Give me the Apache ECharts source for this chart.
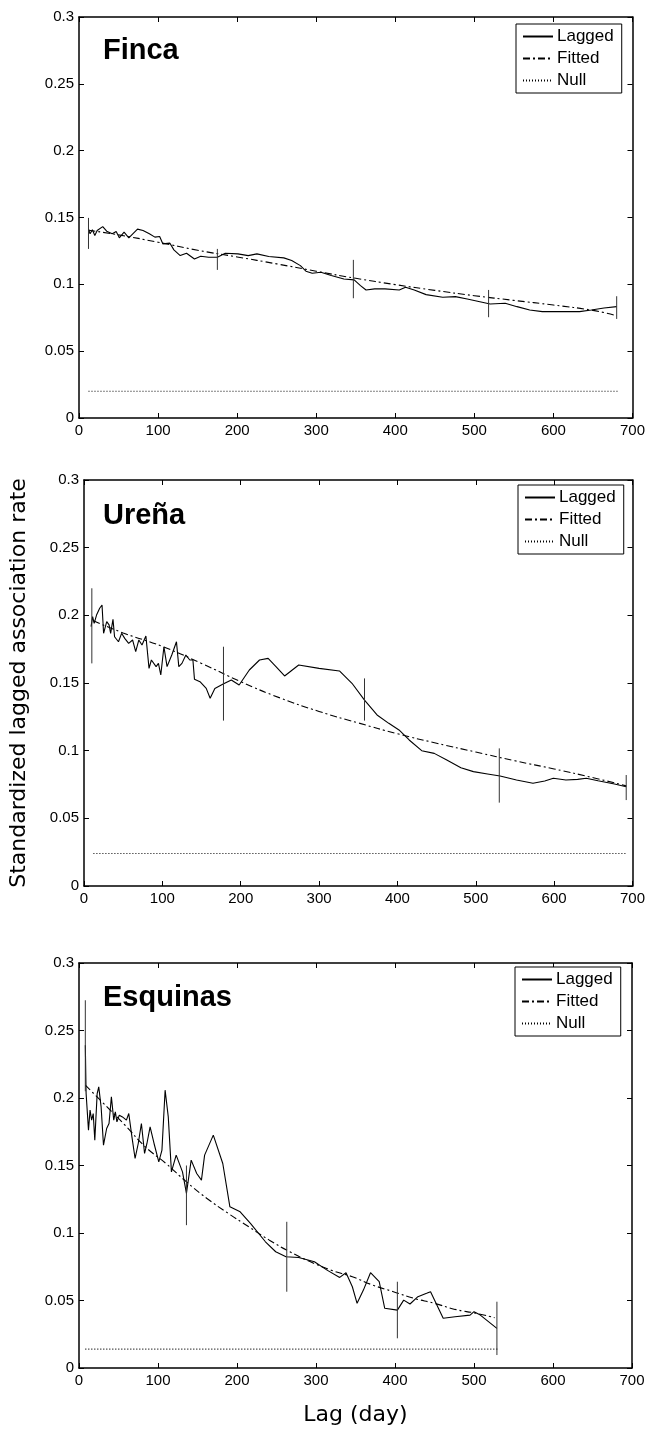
<!DOCTYPE html>
<html>
<head>
<meta charset="utf-8">
<script src="https://cdn.jsdelivr.net/npm/echarts@6/dist/echarts.min.js"></script>
<style>
html,body{margin:0;padding:0;background:#fff;}
#chart{width:648px;height:1433px;}
</style>
</head>
<body>
<div id="chart"></div>
<script>
// ---------- DATA ----------
const panelTitles = ['Finca', 'Ureña', 'Esquinas'];
const legendNames = ['Lagged', 'Fitted', 'Null'];
const xMin = 0, xMax = 700, xInterval = 100;
const yMin = 0, yMax = 0.3, yInterval = 0.05;

const fincaLagged = [[12,0.1415],[14,0.1378],[17,0.1408],[20,0.1365],[23,0.1403],[30,0.1432],[35,0.1398],[42,0.1378],[47,0.1395],[51,0.1348],[57,0.139],[63,0.1348],[68,0.1378],[74,0.1413],[81,0.1403],[89,0.1378],[96,0.1353],[102,0.1358],[106,0.1303],[115,0.1308],[120,0.1258],[128,0.1215],[136,0.1233],[146,0.119],[154,0.121],[164,0.1203],[175,0.1203],[185,0.1233],[201,0.1228],[214,0.1215],[225,0.1228],[240,0.1208],[259,0.1198],[269,0.1178],[280,0.114],[287,0.1098],[295,0.1083],[306,0.109],[319,0.1066],[335,0.104],[348,0.1033],[356,0.099],[363,0.0958],[374,0.0966],[387,0.0966],[405,0.0958],[413,0.0978],[424,0.0958],[439,0.0923],[460,0.0903],[476,0.0908],[491,0.089],[507,0.087],[520,0.0853],[539,0.0858],[554,0.0833],[570,0.0808],[586,0.0796],[607,0.0796],[633,0.0796],[648,0.0808],[664,0.0823],[680,0.0833]];
const fincaFitted = [[12,0.1405],[50,0.137],[100,0.1315],[150,0.1255],[200,0.1205],[250,0.1153],[300,0.1098],[350,0.1045],[400,0.0998],[450,0.0955],[500,0.0915],[550,0.088],[600,0.0845],[650,0.0805],[680,0.0765]];
const fincaNull = [[12,0.02],[681,0.02]];
const fincaErr = [[12,0.1265,0.1497],[175,0.1108,0.1265],[347,0.0896,0.1183],[518,0.0754,0.0958],[680,0.0741,0.0911]];

const urenaLagged = [[9,0.1916],[11,0.199],[13,0.194],[16,0.2002],[20,0.2052],[23,0.2076],[25,0.1867],[29,0.1953],[32,0.1929],[34,0.1867],[37,0.197],[39,0.1842],[44,0.1805],[48,0.1867],[52,0.183],[57,0.1793],[62,0.1818],[66,0.1732],[70,0.1818],[74,0.1781],[79,0.1847],[83,0.1608],[86,0.167],[92,0.1621],[95,0.1645],[98,0.1559],[102,0.1768],[106,0.1621],[112,0.1707],[118,0.1805],[121,0.1621],[125,0.1645],[130,0.1707],[135,0.167],[139,0.167],[141,0.1527],[148,0.151],[156,0.146],[161,0.1387],[167,0.146],[177,0.149],[188,0.1522],[198,0.1485],[211,0.1596],[224,0.167],[235,0.1682],[245,0.1621],[256,0.1552],[274,0.1633],[300,0.1608],[326,0.1589],[342,0.1498],[358,0.1374],[374,0.1264],[389,0.1202],[402,0.1153],[415,0.1079],[431,0.1],[447,0.098],[463,0.0931],[481,0.0874],[497,0.0845],[515,0.0828],[531,0.0813],[552,0.0783],[573,0.0759],[588,0.0776],[599,0.0796],[615,0.0783],[630,0.0788],[641,0.0796],[656,0.0778],[677,0.0754],[692,0.0734]];
const urenaFitted = [[12,0.196],[50,0.187],[100,0.177],[150,0.1645],[200,0.151],[250,0.139],[300,0.129],[350,0.1205],[400,0.1125],[450,0.1055],[500,0.099],[550,0.0925],[600,0.0865],[650,0.08],[692,0.074]];
const urenaNull = [[12,0.024],[692,0.024]];
const urenaErr = [[10,0.1645,0.22],[178,0.1222,0.1768],[358,0.1222,0.1534],[530,0.0616,0.1017],[692,0.0635,0.082]];

const esqLagged = [[8,0.239],[9,0.2033],[12,0.1762],[14,0.191],[16,0.1836],[18,0.1885],[20,0.1688],[23,0.2033],[25,0.2082],[28,0.1934],[31,0.1651],[35,0.1774],[38,0.1811],[41,0.2008],[44,0.1836],[46,0.1897],[48,0.1823],[51,0.1873],[55,0.186],[60,0.1836],[63,0.1885],[67,0.1712],[71,0.1552],[75,0.1663],[79,0.1811],[83,0.1589],[86,0.1663],[90,0.1786],[95,0.1663],[101,0.1527],[105,0.1614],[109,0.2058],[113,0.186],[117,0.1453],[123,0.1577],[131,0.1453],[136,0.1293],[142,0.154],[149,0.1441],[155,0.1392],[159,0.1577],[170,0.1725],[182,0.1515],[191,0.1194],[204,0.1157],[217,0.1071],[236,0.0935],[249,0.0861],[262,0.0824],[278,0.0819],[298,0.0787],[314,0.0725],[330,0.0671],[338,0.0706],[346,0.0602],[352,0.0479],[360,0.0577],[369,0.0706],[380,0.0639],[387,0.0442],[403,0.0429],[411,0.0503],[419,0.0474],[429,0.0528],[440,0.0553],[445,0.0565],[461,0.0368],[476,0.038],[495,0.0392],[500,0.0417],[508,0.0392],[529,0.0294]];
const esqFitted = [[8,0.2095],[31,0.196],[58,0.18],[84,0.1638],[110,0.1515],[136,0.1379],[162,0.1256],[189,0.1145],[215,0.1046],[241,0.0947],[267,0.0861],[293,0.0787],[319,0.0725],[346,0.0676],[372,0.0614],[398,0.0565],[424,0.0516],[450,0.0479],[476,0.0434],[503,0.0405],[526,0.0373]];
const esqNull = [[8,0.014],[530,0.014]];
const esqErr = [[8,0.205,0.2724],[136,0.1058,0.15],[263,0.0565,0.1083],[403,0.022,0.0639],[529,0.0096,0.0491]];

const panelData = [
  {lagged: fincaLagged, fitted: fincaFitted, nul: fincaNull, err: fincaErr},
  {lagged: urenaLagged, fitted: urenaFitted, nul: urenaNull, err: urenaErr},
  {lagged: esqLagged, fitted: esqFitted, nul: esqNull, err: esqErr}
];

// ---------- LAYOUT ----------
const grids = [
  {left: 79, top: 17, width: 554, height: 401},
  {left: 81, top: 480, width: 554, height: 406},
  {left: 79, top: 963, width: 553, height: 405}
];
const legendPos = [
  {left: 516, top: 24},
  {left: 518, top: 485},
  {left: 515, top: 967}
];
const titlePos = [
  {left: 103, top: 36},
  {left: 103, top: 501},
  {left: 103, top: 983}
];

const tickFont = 'Liberation Sans, Arial, sans-serif';
const nameFont = 'DejaVu Sans, sans-serif';

const xAxes = [], yAxes = [], series = [], titles = [], legends = [];

grids.forEach((g, i) => {
  const base = {
    min: xMin, max: xMax, interval: xInterval, type: 'value', gridIndex: i,
    axisLine: {show: true, onZero: false, lineStyle: {color: '#000', width: 1.5}},
    axisTick: {show: true, inside: true, length: 5, lineStyle: {color: '#000'}},
    splitLine: {show: false}
  };
  xAxes.push(Object.assign({}, base, {
    position: 'bottom',
    axisLabel: {color: '#000', fontSize: 15, fontFamily: tickFont, margin: 5},
    name: i === 2 ? 'Lag (day)' : '',
    nameLocation: 'middle', nameGap: 36,
    nameTextStyle: {fontSize: 22, fontFamily: nameFont, color: '#000'}
  }));
  xAxes.push(Object.assign({}, base, {position: 'top', axisLabel: {show: false}}));
  const ybase = {
    min: yMin, max: yMax, interval: yInterval, type: 'value', gridIndex: i,
    axisLine: {show: true, onZero: false, lineStyle: {color: '#000', width: 1.5}},
    axisTick: {show: true, inside: true, length: 5, lineStyle: {color: '#000'}},
    splitLine: {show: false}
  };
  yAxes.push(Object.assign({}, ybase, {
    position: 'left',
    axisLabel: {color: '#000', fontSize: 15, fontFamily: tickFont, margin: 5,
      formatter: v => String(+v.toFixed(2))},
    name: i === 1 ? 'Standardized lagged association rate' : '',
    nameLocation: 'middle', nameGap: 54, nameRotate: 90,
    nameTextStyle: {fontSize: 22, fontFamily: nameFont, color: '#000'}
  }));
  yAxes.push(Object.assign({}, ybase, {position: 'right', axisLabel: {show: false}}));

  const xi = i * 2, yi = i * 2;
  const d = panelData[i];
  series.push({
    type: 'line', name: 'Lagged', xAxisIndex: xi, yAxisIndex: yi, data: d.lagged,
    symbol: 'none', lineStyle: {color: '#000', width: 1.1, type: 'solid'},
    itemStyle: {color: '#000'}, animation: false, z: 3
  });
  series.push({
    type: 'line', name: 'Fitted', xAxisIndex: xi, yAxisIndex: yi, data: d.fitted,
    symbol: 'none', smooth: true, lineStyle: {color: '#000', width: 1.1, type: [7, 3, 2, 3]},
    itemStyle: {color: '#000'}, animation: false, z: 2
  });
  series.push({
    type: 'line', name: 'Null', xAxisIndex: xi, yAxisIndex: yi, data: d.nul,
    symbol: 'none', lineStyle: {color: '#000', width: 1.2, type: [1, 2]},
    itemStyle: {color: '#000'}, animation: false, z: 2
  });
  series.push({
    type: 'custom', name: 'err' + i, xAxisIndex: xi, yAxisIndex: yi, data: d.err,
    encode: {x: 0, y: [1, 2]}, animation: false, z: 4,
    renderItem: (params, api) => {
      const p1 = api.coord([api.value(0), api.value(1)]);
      const p2 = api.coord([api.value(0), api.value(2)]);
      return {type: 'line', shape: {x1: p1[0], y1: p1[1], x2: p2[0], y2: p2[1]},
        style: {stroke: '#333', lineWidth: 1}};
    }
  });

  titles.push({
    text: panelTitles[i], left: titlePos[i].left, top: titlePos[i].top, padding: 0,
    textStyle: {fontSize: 29, fontWeight: 'bold', fontFamily: tickFont, color: '#000'}
  });
  legends.push({
    data: legendNames, orient: 'vertical', left: legendPos[i].left, top: legendPos[i].top,
    selectedMode: false, backgroundColor: '#fff', borderColor: '#000', borderWidth: 1,
    padding: [4, 8, 4, 6], itemWidth: 30, itemHeight: 12, itemGap: 5,
    itemStyle: {opacity: 0},
    textStyle: {fontSize: 17, fontFamily: tickFont, color: '#000', lineHeight: 17, padding: [0, 0, 0, -1]}
  });
});

const chart = echarts.init(document.getElementById('chart'), null, {renderer: 'canvas'});
chart.setOption({
  backgroundColor: '#fff',
  animation: false,
  title: titles,
  legend: legends,
  grid: grids,
  xAxis: xAxes,
  yAxis: yAxes,
  series: series
});
</script>
</body>
</html>
